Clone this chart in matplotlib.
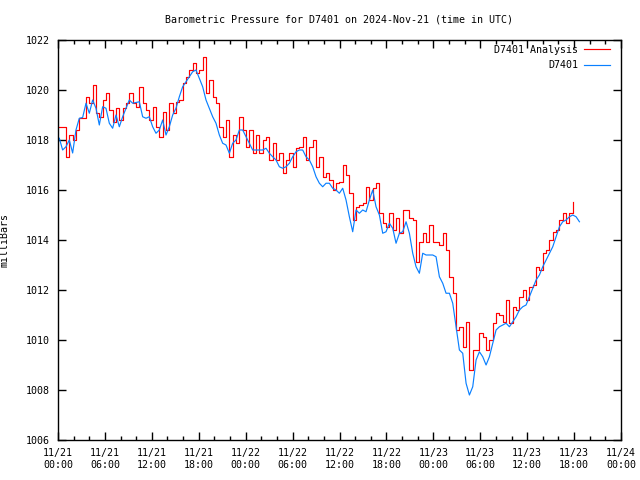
import numpy as np
import pandas as pd
import matplotlib
matplotlib.use("Agg")
import matplotlib.pyplot as plt
import matplotlib.dates as mdates

# 气压数据 (mb), 约 25.6 分钟一个点
analysis_mb = [
    1018.53, 1018.53, 1017.33, 1018.2, 1018.0, 1018.4, 1018.87, 1018.9, 1019.73, 1019.47,
    1020.2, 1019.07, 1018.93, 1019.6, 1019.87, 1019.2, 1018.73, 1019.27, 1018.8, 1019.27,
    1019.47, 1019.87, 1019.47, 1019.33, 1020.13, 1019.47, 1019.2, 1018.8, 1019.33, 1018.53,
    1018.13, 1019.13, 1018.4, 1019.47, 1019.07, 1019.53, 1019.6, 1020.27, 1020.53, 1020.8, 1021.07,
    1020.67, 1020.8, 1021.33, 1019.87, 1020.4, 1019.73, 1019.47, 1018.53, 1018.13, 1018.8,
    1017.33, 1018.2, 1017.87, 1018.93, 1018.4, 1017.73, 1018.4, 1017.47, 1018.2, 1017.47,
    1018.0, 1018.13, 1017.2, 1017.87, 1017.2, 1017.47, 1016.67, 1017.2, 1017.47, 1016.93,
    1017.67, 1017.73, 1018.13, 1017.2, 1017.73, 1018.0, 1016.93, 1017.33, 1016.53, 1016.67,
    1016.4, 1016.0, 1016.27, 1016.33, 1017.0, 1016.6, 1015.87, 1014.8, 1015.33, 1015.4,
    1015.47, 1016.13, 1015.6, 1016.07, 1016.27, 1015.07, 1014.67, 1014.53, 1015.07, 1014.4,
    1014.87, 1014.27, 1015.2, 1015.2, 1014.87, 1014.8, 1013.13, 1013.93, 1014.27, 1013.93,
    1014.6, 1013.93, 1013.93, 1013.8,
    1014.27, 1013.6, 1012.53, 1011.87, 1010.4, 1010.53, 1009.73, 1010.73, 1008.8, 1009.6,
    1009.6, 1010.27, 1010.13, 1009.6, 1010.0, 1010.67, 1011.07, 1011.0, 1010.73, 1011.6,
    1010.67, 1011.33, 1011.2, 1011.73, 1012.0, 1011.6, 1012.13, 1012.2, 1012.93, 1012.8,
    1013.47, 1013.6, 1014.0, 1014.33, 1014.4, 1014.8, 1015.07, 1014.67, 1015.07, 1015.53,
]

station_mb = [
    1018.07, 1017.6, 1017.73, 1018.0, 1017.48, 1018.4, 1018.87, 1018.9, 1019.47, 1019.07,
    1019.6, 1019.27, 1018.6, 1019.33, 1019.27, 1018.67, 1018.47, 1019.0, 1018.53, 1018.93,
    1019.27, 1019.6, 1019.47, 1019.5, 1019.53, 1018.93, 1018.87, 1018.93, 1018.53, 1018.27,
    1018.4, 1018.8, 1018.2, 1018.53, 1019.0, 1019.27, 1019.73, 1020.13, 1020.33, 1020.53, 1020.73,
    1020.8, 1020.47, 1020.13, 1019.6, 1019.27, 1018.93, 1018.67, 1018.2, 1017.87, 1017.8,
    1017.47, 1017.87, 1018.0, 1018.4, 1018.4, 1018.13, 1017.87, 1017.6, 1017.6, 1017.6,
    1017.6, 1017.67, 1017.47, 1017.33, 1017.2, 1016.93, 1016.87, 1016.93, 1017.07, 1017.33,
    1017.53, 1017.6, 1017.6, 1017.33, 1017.2, 1016.93, 1016.53, 1016.27, 1016.13, 1016.27,
    1016.27, 1016.07, 1016.0, 1015.87, 1016.07, 1015.6, 1014.93, 1014.33, 1015.2, 1015.07,
    1015.2, 1015.13, 1015.6, 1016.0, 1015.33, 1015.0, 1014.27, 1014.33, 1014.67, 1014.47,
    1013.87, 1014.27, 1014.33, 1014.73, 1014.27, 1013.47, 1012.93, 1012.67, 1013.47, 1013.4,
    1013.4, 1013.4, 1013.33, 1012.53,
    1012.27, 1011.87, 1011.87, 1011.47, 1010.53, 1009.6, 1009.47, 1008.27, 1007.8, 1008.13,
    1009.2, 1009.53, 1009.33, 1009.0, 1009.33, 1009.87, 1010.4, 1010.53, 1010.6, 1010.67,
    1010.53, 1010.73, 1010.93, 1011.2, 1011.33, 1011.4, 1011.73, 1012.07, 1012.4, 1012.6,
    1012.93, 1013.2, 1013.47, 1013.73, 1014.13, 1014.53, 1014.73, 1014.8, 1014.93, 1015.0,
    1014.93, 1014.73,
]

start_time = "2024-11-21 00:10"
step = "1535s"
labels = ["D7401 Analysis", "D7401"]

t_station = pd.date_range(start_time, periods=len(station_mb), freq=step)
t_analysis = pd.date_range(start_time, periods=len(analysis_mb), freq=step)

plt.rcParams['font.family'] = ['DejaVu Sans Mono']
plt.rcParams['font.size'] = 7.2

fig = plt.figure(figsize=(6.4, 4.8), dpi=100)
ax = fig.add_axes([58 / 640, 40 / 480, 563 / 640, 400 / 480])

ax.plot(t_analysis, analysis_mb, color='#ff0000', lw=0.85, drawstyle='steps-post', label=labels[0])
ax.plot(t_station, station_mb, color='#0a80ff', lw=0.85, label=labels[1])

ax.set_xlim(pd.Timestamp("2024-11-21 00:00"), pd.Timestamp("2024-11-24 00:00"))
ax.set_ylim(1006, 1022)
ax.set_yticks(np.arange(1006, 1023, 2))
ax.xaxis.set_major_locator(mdates.HourLocator(byhour=[0, 6, 12, 18]))
ax.xaxis.set_minor_locator(mdates.HourLocator(interval=2))
ax.xaxis.set_major_formatter(mdates.DateFormatter("%m/%d\n%H:%M"))

ax.tick_params(which='both', direction='in', top=True, right=True, width=1)
ax.tick_params(which='major', length=6, pad=6)
ax.tick_params(which='minor', length=3)
for s in ax.spines.values():
    s.set_linewidth(1.0)

ax.set_ylabel("milliBars")
ax.yaxis.set_label_coords(-48 / 563, 0.5)
fig.text(339 / 640, 1 - 19 / 480, "Barometric Pressure for D7401 on 2024-Nov-21 (time in UTC)",
         ha='center', va='center')

# 图例: 文字在左, 线在右
leg = ax.legend(loc='upper right', bbox_to_anchor=(1 - 8 / 563, 1 - 2 / 400),
                frameon=False, markerfirst=False, handlelength=2.6,
                borderaxespad=0.0, borderpad=0.3, labelspacing=0.55, handletextpad=0.6)

fig.savefig("out.png", dpi=100)
